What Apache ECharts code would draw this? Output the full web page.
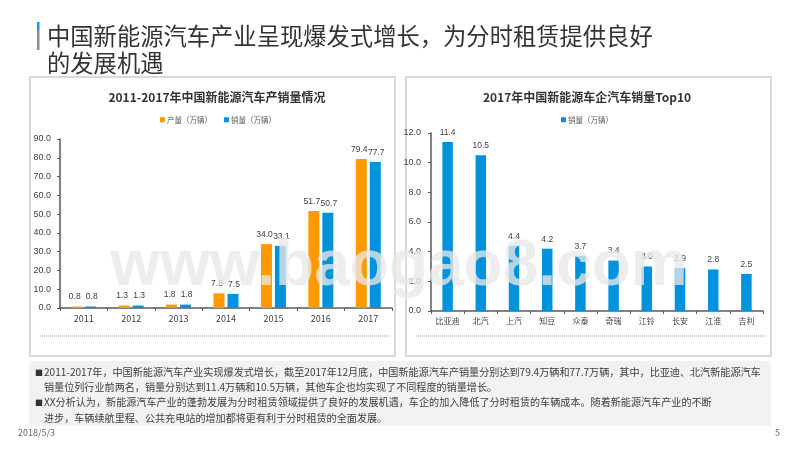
<!DOCTYPE html>
<html>
<head>
<meta charset="utf-8">
<title>新能源汽车</title>
<style>
html,body{margin:0;padding:0;background:#fff;}
#main{width:800px;height:450px;}
</style>
<script src="https://cdn.jsdelivr.net/npm/echarts@6/dist/echarts.min.js"></script>
</head>
<body>
<div id="main"></div>
<script>
var cjk = '"Noto Sans CJK SC"';
var textColor = '#404040';

// 产销量情况
var years = ['2011','2012','2013','2014','2015','2016','2017'];
var produce = [0.8,1.3,1.8,7.8,34.0,51.7,79.4];
var sale = [0.8,1.3,1.8,7.5,33.1,50.7,77.7];

// 车企销量Top10
var brands = ['比亚迪','北汽','上汽','知豆','众泰','奇瑞','江铃','长安','江淮','吉利'];
var brandSale = [11.4,10.5,4.4,4.2,3.7,3.4,3.0,2.9,2.8,2.5];

var titleLines = ['中国新能源汽车产业呈现爆发式增长，为分时租赁提供良好','的发展机遇'];
var bodyLines = [
	'2011-2017年，中国新能源汽车产业实现爆发式增长，截至2017年12月底，中国新能源汽车产销量分别达到79.4万辆和77.7万辆，其中，比亚迪、北汽新能源汽车',
	'销量位列行业前两名，销量分别达到11.4万辆和10.5万辆，其他车企也均实现了不同程度的销量增长。',
	'XX分析认为，新能源汽车产业的蓬勃发展为分时租赁领域提供了良好的发展机遇，车企的加入降低了分时租赁的车辆成本。随着新能源汽车产业的不断',
	'进步，车辆续航里程、公共充电站的增加都将更有利于分时租赁的全面发展。'
];

function txt(x,y,s,size,color,weight){
	return {type:'text',x:x,y:y,z:5,style:{text:s,font:(weight||'normal')+' '+size+'px '+cjk,fill:color||textColor,textVerticalAlign:'middle'}};
}
function box(x,y,w,h,fill,stroke){
	return {type:'rect',z:0,shape:{x:x,y:y,width:w,height:h},style:{fill:fill,stroke:stroke||null,lineWidth:stroke?2:0}};
}
function dotted(x1,x2,y){
	return {type:'line',z:1,shape:{x1:x1,y1:y,x2:x2,y2:y},style:{stroke:'#bfbfbf',lineWidth:1.5,lineDash:[1,1]}};
}

var graphics = [
	box(37,22,2.5,8,'#0f9ae0'),
	box(37,30,2.5,20,'#8c8c8c'),
	box(30,77,365,279,'#fff','#d9d9d9'),
	box(406,77,365,279,'#fff','#d9d9d9'),
	box(29,361,742,65,'#f2f2f2'),
	dotted(40,389,336),
	dotted(416,765,336),
	txt(47,36,titleLines[0],23.3,'#333'),
	txt(47,63,titleLines[1],23.3,'#333'),
	txt(35,373,'■',8,'#333'),
	txt(44,372,bodyLines[0],10.1,'#404040'),
	txt(44,387,bodyLines[1],10.1,'#404040'),
	txt(35,403,'■',8,'#333'),
	txt(44,402.5,bodyLines[2],10.1,'#404040'),
	txt(44,418,bodyLines[3],10.1,'#404040'),
	txt(18,433,'2018/5/3',9,'#666'),
	txt(775,433,'5',9,'#666'),
	// 水印
	{type:'text',x:399,y:267,z:100,style:{text:'www.baogao8.com',font:'bold 64px "Liberation Sans"',fill:'rgba(232,232,232,0.78)',textAlign:'center',textVerticalAlign:'middle'}}
];

function barLabel(dx){
	return {show:true,position:'top',distance:5,offset:[dx,0],fontSize:8.5,color:textColor,fontFamily:'"Liberation Sans"',formatter:function(p){return p.value.toFixed(1);}};
}
function xAxis(idx,data,size){
	return {type:'category',gridIndex:idx,data:data,
		axisLine:{lineStyle:{color:'#595959',width:1.5}},
		axisTick:{show:true,length:3,lineStyle:{color:'#595959'}},
		axisLabel:{fontSize:size,color:textColor,margin:6,fontFamily:cjk,interval:0}};
}
function yAxis(idx,max,interval,margin){
	return {type:'value',gridIndex:idx,min:0,max:max,interval:interval,splitLine:{show:false},
		axisLine:{show:true,lineStyle:{color:'#595959',width:1.5}},
		axisTick:{show:true,length:3,lineStyle:{color:'#595959'}},
		axisLabel:{fontSize:9,color:textColor,margin:margin,fontFamily:'"Liberation Sans"',formatter:function(v){return v.toFixed(1);}}};
}

var option = {
	animation:false,
	textStyle:{fontFamily:cjk},
	title:[
		{text:'2011-2017年中国新能源汽车产销量情况',left:212,top:86,textAlign:'center',textStyle:{fontSize:12,fontWeight:'bold',color:'#333',fontFamily:cjk}},
		{text:'2017年中国新能源车企汽车销量Top10',left:582,top:86,textAlign:'center',textStyle:{fontSize:12,fontWeight:'bold',color:'#333',fontFamily:cjk}}
	],
	legend:[
		{left:155,top:111,itemWidth:5,itemHeight:5,itemGap:12,icon:'rect',data:['产量（万辆）','销量（万辆）'],textStyle:{fontSize:7.5,color:'#595959',padding:[0,0,0,-3]}},
		{left:556,top:111,itemWidth:5,itemHeight:5,icon:'rect',data:['销量（万辆）'],textStyle:{fontSize:7.5,color:'#595959',padding:[0,0,0,-3]}}
	],
	grid:[
		{left:60,top:139,width:332,height:169},
		{left:431,top:133,width:332,height:178}
	],
	xAxis:[xAxis(0,years,9),xAxis(1,brands,8)],
	yAxis:[yAxis(0,90,10,9),yAxis(1,12,2,10)],
	series:[
		{name:'产量（万辆）',type:'bar',xAxisIndex:0,yAxisIndex:0,data:produce,barWidth:11,barGap:'27%',itemStyle:{color:'#ff9900'},label:barLabel(-2)},
		{name:'销量（万辆）',type:'bar',xAxisIndex:0,yAxisIndex:0,data:sale,barWidth:11,barGap:'27%',itemStyle:{color:'#0092dc'},label:barLabel(1)},
		{name:'销量（万辆）',type:'bar',xAxisIndex:1,yAxisIndex:1,data:brandSale,barWidth:10.5,itemStyle:{color:'#0092dc'},label:barLabel(0)}
	],
	graphic:{elements:graphics}
};

var myChart = echarts.init(document.getElementById('main'));
myChart.setOption(option);
</script>
</body>
</html>
